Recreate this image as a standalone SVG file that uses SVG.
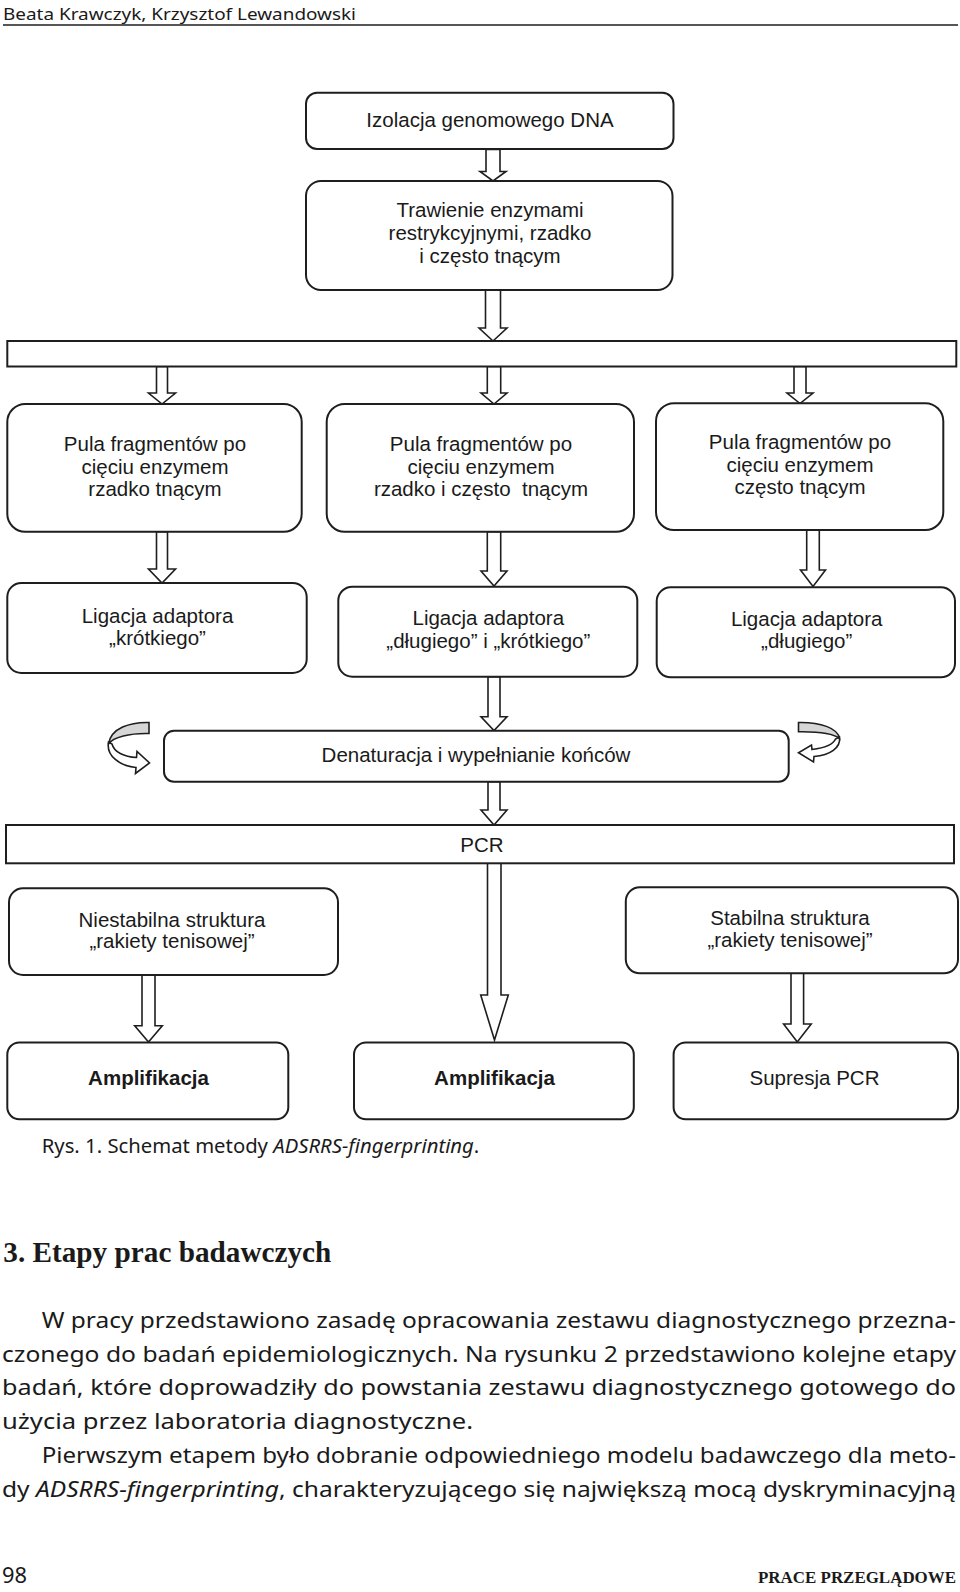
<svg xmlns="http://www.w3.org/2000/svg" width="960" height="1592" viewBox="0 0 960 1592">
<style>
.bx{fill:#fff;stroke:#1e1e1e;stroke-width:2}
.ar{fill:#fff;stroke:#1e1e1e;stroke-width:1.6;stroke-linejoin:miter}
.cg{fill:#d6d6d6;stroke:#1e1e1e;stroke-width:1.6}
.cw{fill:#fff;stroke:#1e1e1e;stroke-width:1.6}
.t{font-family:"Liberation Sans",Arial,sans-serif;font-size:20.5px;fill:#1a1a1a;text-anchor:middle}
.tb{font-weight:bold}
.body{font-family:"Noto Sans","Open Sans",sans-serif;fill:#1a1a1a}
.it{font-style:italic}
</style>
<rect width="960" height="1592" fill="#fff"/>

<!-- page header -->
<text class="body" x="3" y="19.5" style="font-size:17px" textLength="353" lengthAdjust="spacingAndGlyphs">Beata Krawczyk, Krzysztof Lewandowski</text>
<line x1="3" y1="25" x2="958" y2="25" stroke="#1e1e1e" stroke-width="1.5"/>

<g id="connectors">
<path class="ar" d="M486,149.5 H500 V171.5 H506 L493,181 L480,171.5 H486 Z"/>
<path class="ar" d="M485.5,290 H500.5 V328 H507 L493,341 L479,328 H485.5 Z"/>
<path class="ar" d="M156.5,366.5 H167.5 V393 H175.5 L162,404 L148.5,393 H156.5 Z"/>
<path class="ar" d="M487.3,366.5 H500.7 V393 H507 L494,404 L481,393 H487.3 Z"/>
<path class="ar" d="M794,366.5 H806 V393 H813 L800,403.5 L787,393 H794 Z"/>
<path class="ar" d="M156.5,531.7 H167.5 V569 H175.5 L162,583 L148.5,569 H156.5 Z"/>
<path class="ar" d="M487.3,531.7 H500.7 V571 H507 L494,586 L481,571 H487.3 Z"/>
<path class="ar" d="M806.7,530 H819.3 V570 H825.5 L813,586.5 L800.5,570 H806.7 Z"/>
<path class="ar" d="M488,676.7 H500 V716.7 H507 L494,730.5 L481,716.7 H488 Z"/>
<path class="ar" d="M488,781.7 H500 V810 H507 L494,825 L481,810 H488 Z"/>
<path class="ar" d="M487.5,863.3 H501 V995 H508.3 L494.5,1040 L480.7,995 H487.5 Z"/>
<path class="ar" d="M142,975 H155 V1025.7 H162.3 L148.5,1042 L134.7,1025.7 H142 Z"/>
<path class="ar" d="M791,973.3 H803.6 V1024 H811.2 L797.3,1042 L783.6,1024 H791 Z"/>
<!-- curved loop arrows -->
<path class="cw" d="M108.5,742 C106,756 120,766 136,767.5 L135.5,773.5 L149.5,763 L137,751.5 L136.5,757.5 C124,757 114,752 112,744 Z"/>
<path class="cg" d="M149,722.5 C130,722 111,728 108.5,744 C113,737 130,733 149,733.5 Z"/>
<path class="cw" d="M839.5,737 C841,748 830,755 814,756.5 L813.5,762 L798.5,752.7 L811.5,745 L812,749.5 C824,748 833,745 835.5,739 Z"/>
<path class="cg" d="M798.5,722.5 C820,722 838,728 839.5,738.5 C834,734 818,731.5 798.5,731.8 Z"/>
</g>

<g id="n-izolacja">
<rect class="bx" x="306" y="92.7" width="367.5" height="56.3" rx="11"/>
<text class="t" x="490" y="127">Izolacja genomowego DNA</text>
</g>
<g id="n-trawienie">
<rect class="bx" x="306" y="181" width="366.5" height="109" rx="15"/>
<text class="t" x="490" y="217">Trawienie enzymami</text>
<text class="t" x="490" y="240">restrykcyjnymi, rzadko</text>
<text class="t" x="490" y="263">i często tnącym</text>
</g>
<g id="n-bar">
<rect class="bx" x="7.3" y="341" width="949" height="25.5"/>
</g>
<g id="n-pula-rzadko">
<rect class="bx" x="7.3" y="404" width="294.4" height="127.7" rx="18"/>
<text class="t" x="155" y="450.7">Pula fragmentów po</text>
<text class="t" x="155" y="473.5">cięciu enzymem</text>
<text class="t" x="155" y="496.3">rzadko tnącym</text>
</g>
<g id="n-pula-oba">
<rect class="bx" x="326.7" y="404" width="307.3" height="127.7" rx="18"/>
<text class="t" x="481" y="450.7">Pula fragmentów po</text>
<text class="t" x="481" y="473.5">cięciu enzymem</text>
<text class="t" x="481" y="496.3" style="white-space:pre">rzadko i często  tnącym</text>
</g>
<g id="n-pula-czesto">
<rect class="bx" x="656" y="403.3" width="287.3" height="126.7" rx="18"/>
<text class="t" x="800" y="449.3">Pula fragmentów po</text>
<text class="t" x="800" y="471.7">cięciu enzymem</text>
<text class="t" x="800" y="494.3">często tnącym</text>
</g>
<g id="n-lig-krotki">
<rect class="bx" x="7.3" y="583" width="299.4" height="90" rx="14"/>
<text class="t" x="157.5" y="622.7">Ligacja adaptora</text>
<text class="t" x="157.5" y="645">„krótkiego”</text>
</g>
<g id="n-lig-oba">
<rect class="bx" x="338.3" y="586.7" width="299" height="90" rx="14"/>
<text class="t" x="488.3" y="625">Ligacja adaptora</text>
<text class="t" x="488.3" y="648">„długiego” i „krótkiego”</text>
</g>
<g id="n-lig-dlugi">
<rect class="bx" x="656.7" y="587.3" width="298.3" height="90" rx="14"/>
<text class="t" x="806.7" y="626">Ligacja adaptora</text>
<text class="t" x="806.7" y="648.3">„długiego”</text>
</g>
<g id="n-denaturacja">
<rect class="bx" x="164" y="730.7" width="624.7" height="51" rx="10"/>
<text class="t" x="476" y="761.7">Denaturacja i wypełnianie końców</text>
</g>
<g id="n-pcr">
<rect class="bx" x="6" y="825" width="948" height="38.3"/>
<text class="t" x="482" y="851.7">PCR</text>
</g>
<g id="n-niestabilna">
<rect class="bx" x="9" y="888.3" width="329" height="86.7" rx="14"/>
<text class="t" x="172" y="926.7">Niestabilna struktura</text>
<text class="t" x="172" y="948.3">„rakiety tenisowej”</text>
</g>
<g id="n-stabilna">
<rect class="bx" x="625.8" y="887.3" width="332.2" height="86" rx="14"/>
<text class="t" x="790" y="925">Stabilna struktura</text>
<text class="t" x="790" y="946.7">„rakiety tenisowej”</text>
</g>
<g id="n-ampl-1">
<rect class="bx" x="7.3" y="1042.5" width="281" height="76.8" rx="12"/>
<text class="t tb" x="148.5" y="1085">Amplifikacja</text>
</g>
<g id="n-ampl-2">
<rect class="bx" x="354" y="1042.5" width="279.8" height="76.8" rx="12"/>
<text class="t tb" x="494.5" y="1085">Amplifikacja</text>
</g>
<g id="n-supresja">
<rect class="bx" x="673.6" y="1042.5" width="284.4" height="76.8" rx="12"/>
<text class="t" x="814.5" y="1085">Supresja PCR</text>
</g>

<!-- caption and page text -->
<text class="body" x="41.7" y="1153" style="font-size:20.3px">Rys. 1. Schemat metody <tspan class="it">ADSRRS-fingerprinting</tspan>.</text>
<text x="3.3" y="1261.7" font-family="'Liberation Serif','Times New Roman',serif" font-weight="bold" font-size="29" fill="#1a1a1a" textLength="328" lengthAdjust="spacingAndGlyphs">3. Etapy prac badawczych</text>

<g style="font-size:22px">
<text class="body" x="41.7" y="1328" textLength="914.3" lengthAdjust="spacingAndGlyphs">W pracy przedstawiono zasadę opracowania zestawu diagnostycznego przezna-</text>
<text class="body" x="2" y="1361.5" textLength="954" lengthAdjust="spacingAndGlyphs">czonego do badań epidemiologicznych. Na rysunku 2 przedstawiono kolejne etapy</text>
<text class="body" x="2" y="1395" textLength="954" lengthAdjust="spacingAndGlyphs">badań, które doprowadziły do powstania zestawu diagnostycznego gotowego do</text>
<text class="body" x="2" y="1428.5" textLength="471" lengthAdjust="spacingAndGlyphs">użycia przez laboratoria diagnostyczne.</text>
<text class="body" x="41.7" y="1463" textLength="914.3" lengthAdjust="spacingAndGlyphs">Pierwszym etapem było dobranie odpowiedniego modelu badawczego dla meto-</text>
<text class="body" x="2" y="1497" textLength="954" lengthAdjust="spacingAndGlyphs">dy <tspan class="it">ADSRRS-fingerprinting</tspan>, charakteryzującego się największą mocą dyskryminacyjną</text>
</g>

<text class="body" x="2" y="1583" style="font-size:21px" textLength="25" lengthAdjust="spacingAndGlyphs">98</text>
<text x="956" y="1583" font-family="'Liberation Serif','Times New Roman',serif" font-weight="bold" font-size="17" fill="#1a1a1a" text-anchor="end" textLength="198" lengthAdjust="spacingAndGlyphs">PRACE PRZEGLĄDOWE</text>
</svg>
